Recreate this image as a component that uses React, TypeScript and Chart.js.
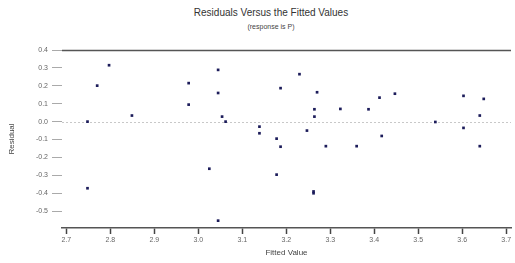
import React, { useEffect, useRef } from "react";
import { Chart, registerables } from "chart.js";

Chart.register(...registerables);

const fittedValues = [
  2.748, 2.748, 2.770, 2.797, 2.849, 2.978, 2.978, 3.025, 3.045, 3.045,
  3.054, 3.062, 3.045, 3.139, 3.139, 3.178, 3.187, 3.178, 3.187, 3.230,
  3.247, 3.270, 3.264, 3.264, 3.262, 3.262, 3.290, 3.323, 3.360, 3.387,
  3.412, 3.417, 3.447, 3.539, 3.603, 3.603, 3.640, 3.649, 3.640,
];
const residuals = [
  0.0, -0.372, 0.201, 0.315, 0.034, 0.215, 0.095, -0.263, 0.289, 0.160,
  0.028, 0.0, -0.553, -0.028, -0.065, -0.095, -0.140, -0.296, 0.187, 0.265,
  -0.050, 0.164, 0.069, 0.028, -0.390, -0.400, -0.137, 0.071, -0.137, 0.069,
  0.134, -0.080, 0.156, -0.002, 0.144, -0.035, 0.034, 0.127, -0.137,
];
const xTicks = [2.7, 2.8, 2.9, 3.0, 3.1, 3.2, 3.3, 3.4, 3.5, 3.6, 3.7];
const yTicks = [0.4, 0.3, 0.2, 0.1, 0.0, -0.1, -0.2, -0.3, -0.4, -0.5];

const titleText = "Residuals Versus the Fitted Values";
const subtitleText = "(response is P)";
const xTitle = "Fitted Value";
const yTitle = "Residual";

const frameLines = {
  id: "frameLines",
  beforeDatasetsDraw(chart: any) {
    const { ctx, chartArea } = chart;
    const y = chart.scales.y;
    ctx.save();
    ctx.strokeStyle = "#555";
    ctx.lineWidth = 1.5;
    ctx.beginPath();
    ctx.moveTo(chartArea.left, chartArea.top + 0.5);
    ctx.lineTo(chartArea.right, chartArea.top + 0.5);
    ctx.stroke();
    const zy = Math.round(y.getPixelForValue(0)) + 0.5;
    ctx.strokeStyle = "#c8c8c8";
    ctx.lineWidth = 1;
    ctx.setLineDash([2, 2]);
    ctx.beginPath();
    ctx.moveTo(chartArea.left, zy);
    ctx.lineTo(chartArea.right, zy);
    ctx.stroke();
    ctx.restore();
  },
};

export default function App() {
  const ref = useRef<HTMLCanvasElement>(null);
  useEffect(() => {
    if (!ref.current) return;
    const points = fittedValues.map((x, i) => ({ x, y: residuals[i] }));
    const chart = new Chart(ref.current, {
      type: "scatter",
      data: {
        datasets: [
          {
            data: points,
            backgroundColor: "#1c1c5a",
            borderColor: "#1c1c5a",
            pointStyle: "rect",
            pointRadius: 1.9,
            borderWidth: 0,
          },
        ],
      },
      options: {
        animation: false,
        responsive: false,
        layout: { padding: { top: 50, left: 0, right: 0, bottom: 0 } },
        plugins: {
          legend: { display: false },
          tooltip: { enabled: false },
          title: { display: false },
        },
        scales: {
          x: {
            type: "linear",
            min: 2.69,
            max: 3.711,
            afterBuildTicks: (s: any) => {
              s.ticks = xTicks.map((v) => ({ value: v }));
            },
            afterFit: (s: any) => {
              s.height = 35;
              s.paddingLeft = 0;
              s.paddingRight = 0;
            },
            grid: {
              drawOnChartArea: false,
              drawTicks: true,
              tickLength: 6,
              tickColor: "#444",
              tickWidth: 1.5,
            },
            border: { display: true, color: "#555", width: 1.5 },
            ticks: {
              padding: 2,
              maxRotation: 0,
              autoSkip: false,
              color: "#666",
              font: { family: "Arial", size: 7 },
              callback: (v: any) => Number(v).toFixed(1),
            },
            title: {
              display: true,
              text: xTitle,
              color: "#444",
              font: { family: "Arial", size: 8 },
              padding: { top: 2, bottom: 5 },
            },
          },
          y: {
            type: "linear",
            min: -0.594,
            max: 0.4,
            afterBuildTicks: (s: any) => {
              s.ticks = yTicks.map((v) => ({ value: v }));
            },
            afterFit: (s: any) => {
              s.width = 62;
              s.paddingTop = 0;
              s.paddingBottom = 0;
            },
            grid: {
              drawOnChartArea: false,
              drawTicks: true,
              tickLength: 10,
              tickColor: "#aaa",
              tickWidth: 1,
            },
            border: { display: false },
            ticks: {
              padding: 4,
              autoSkip: false,
              color: "#666",
              font: { family: "Arial", size: 7 },
              callback: (v: any) => Number(v).toFixed(1),
            },
            title: {
              display: true,
              text: yTitle,
              color: "#444",
              font: { family: "Arial", size: 8 },
              padding: { top: 7, bottom: 0 },
            },
          },
        },
      },
      plugins: [frameLines],
    });
    return () => chart.destroy();
  }, []);

  return (
    <div style={{ position: "fixed", left: 0, top: 0, width: 515, height: 263, background: "#fff" }}>
      <div
        style={{
          position: "absolute",
          left: 171,
          width: 200,
          top: 6,
          textAlign: "center",
          fontFamily: "Arial, sans-serif",
          fontSize: 10,
          color: "#333",
          lineHeight: "13px",
        }}
      >
        {titleText}
      </div>
      <div
        style={{
          position: "absolute",
          left: 171,
          width: 200,
          top: 22,
          textAlign: "center",
          fontFamily: "Arial, sans-serif",
          fontSize: 7,
          color: "#444",
          lineHeight: "10px",
        }}
      >
        {subtitleText}
      </div>
      <canvas ref={ref} width={515} height={263} style={{ position: "absolute", left: 0, top: 0, width: 515, height: 263 }} />
    </div>
  );
}
